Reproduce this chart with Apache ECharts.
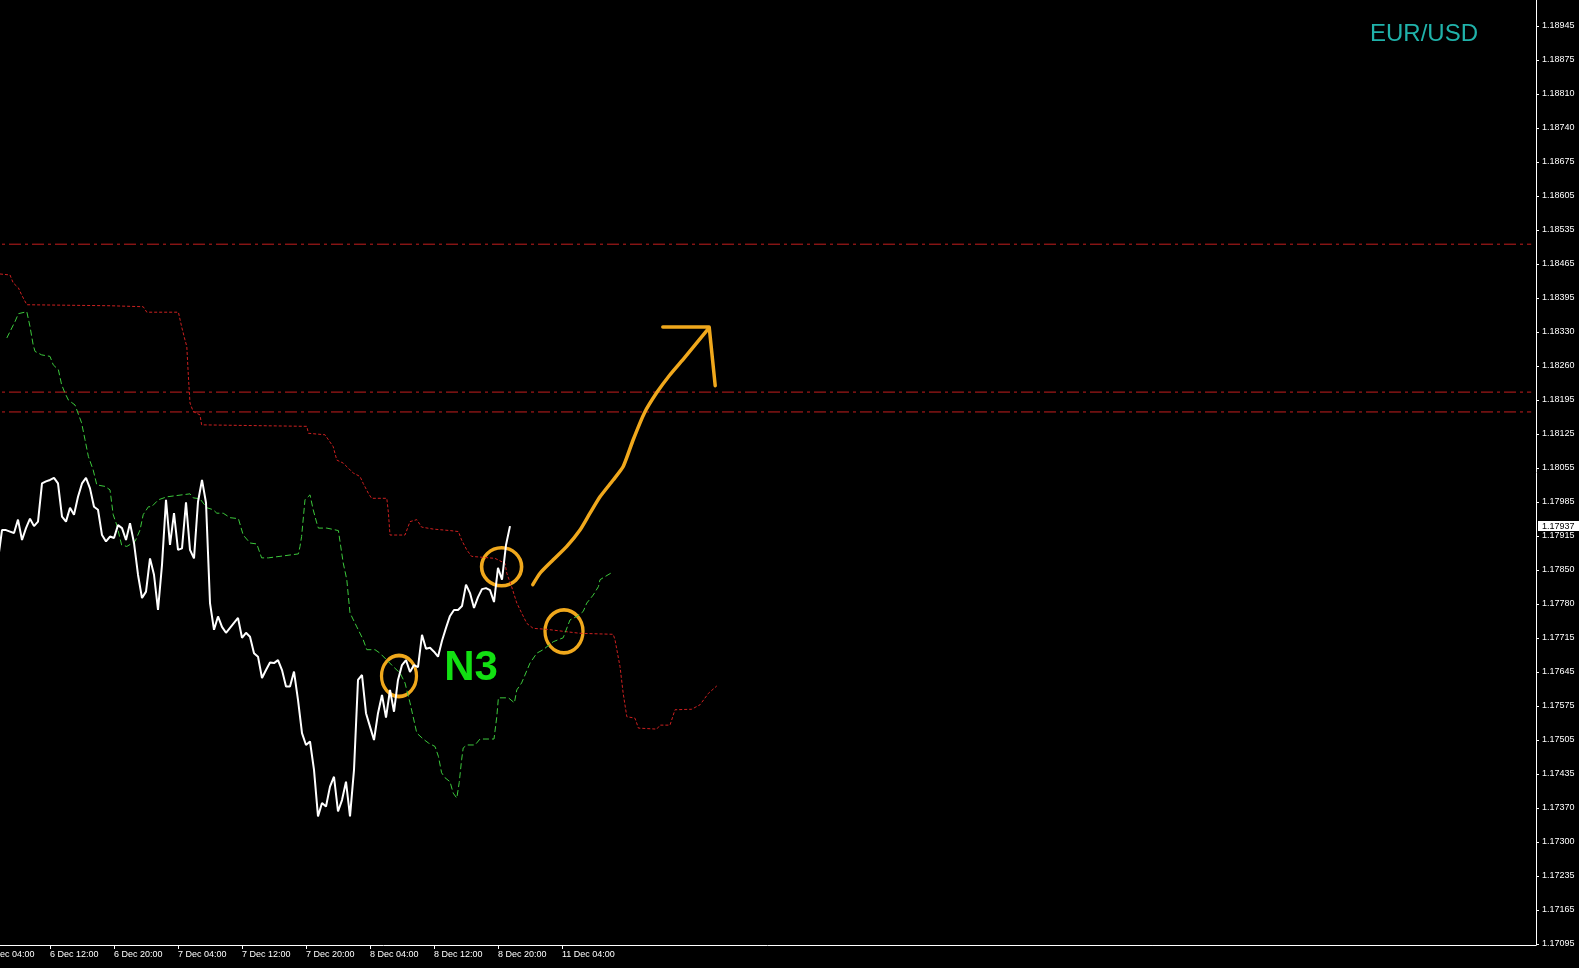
<!DOCTYPE html>
<html>
<head>
<meta charset="utf-8">
<script src="https://cdn.jsdelivr.net/npm/echarts@6/dist/echarts.min.js"></script>
<style>
html,body{margin:0;padding:0;background:#000;}
#chart{width:1579px;height:968px;}
</style>
</head>
<body>
<div id="chart"></div>
<script>
// ---- data (bar index = one M30 bar; index 0 = 6 Dec 12:00) ----
const WHITE_START = -13;
const whiteClose = [
1.17869,1.17929,1.17929,1.17926,1.17923,1.17950,1.17909,1.17933,1.17952,1.17937,1.17946,1.18023,1.18027,
1.18030,1.18034,1.18023,1.17956,1.17946,1.17974,1.17960,1.17996,1.18023,1.18034,1.18013,1.17976,1.17970,
1.17919,1.17906,1.17916,1.17913,1.17939,1.17933,1.17909,1.17943,1.17903,1.17839,1.17792,1.17805,1.17872,
1.17839,1.17768,1.17859,1.17990,1.17899,1.17963,1.17889,1.17892,1.17985,1.17889,1.17872,1.17986,1.18030,
1.17984,1.17782,1.17728,1.17755,1.17734,1.17722,1.17732,1.17742,1.17752,1.17712,1.17722,1.17714,1.17681,
1.17674,1.17631,1.17647,1.17662,1.17661,1.17667,1.17647,1.17614,1.17614,1.17644,1.17587,1.17520,1.17496,
1.17503,1.17446,1.17352,1.17379,1.17372,1.17412,1.17432,1.17362,1.17385,1.17422,1.17352,1.17446,1.17627,
1.17637,1.17560,1.17533,1.17506,1.17560,1.17597,1.17551,1.17607,1.17563,1.17627,1.17657,1.17667,1.17643,
1.17657,1.17653,1.17718,1.17690,1.17692,1.17684,1.17674,1.17706,1.17732,1.17756,1.17768,1.17768,1.17776,
1.17819,1.17802,1.17772,1.17794,1.17810,1.17812,1.17808,1.17784,1.17853,1.17829,1.17899,1.17937
];
const greenPts = [
[-10.8,1.18316],[-8.75,1.18349],[-7.9,1.18365],[-5.8,1.18369],[-5,1.18339],[-4.2,1.18302],[-3.75,1.18289],[-2.1,1.18282],
[0,1.18279],[0.8,1.18262],[2.1,1.18252],[2.9,1.18222],[3.75,1.18205],[4.6,1.18191],[6.25,1.18181],[7.9,1.18145],
[8.75,1.18111],[9.6,1.18077],[10.8,1.18050],[11.7,1.18020],[13.75,1.18017],[15,1.18010],[15.8,1.17960],[16.7,1.17939],
[17.9,1.17899],[19.2,1.17896],[21.25,1.17906],[22.5,1.17929],[23.3,1.17960],[24.6,1.17976],[25.4,1.17976],[27.1,1.17990],
[29.2,1.17996],[35,1.18002],[35.8,1.17994],[37.5,1.17992],[39.2,1.17974],[40.8,1.17970],[41.7,1.17963],[43.3,1.17963],
[45,1.17954],[47.1,1.17952],[48.3,1.17919],[50,1.17903],[51.7,1.17901],[52.9,1.17873],[54.6,1.17873],[55,1.17877],
[62.1,1.17881],[62.5,1.17896],[62.9,1.17916],[63.75,1.17990],[65,1.18000],[65.8,1.17970],[66.7,1.17943],[67.1,1.17933],
[69.2,1.17933],[72.1,1.17928],[72.5,1.17906],[73.3,1.17863],[74.2,1.17829],[74.6,1.17795],[75,1.17762],[76.7,1.17734],
[78.3,1.17708],[79.2,1.17688],[81.25,1.17688],[82.5,1.17681],[85.8,1.17654],[87.5,1.17641],[88.75,1.17621],[90,1.17581],
[91.7,1.17520],[93.3,1.17508],[94.6,1.17500],[96.25,1.17493],[97.1,1.17473],[97.9,1.17440],[98.75,1.17430],[100,1.17422],
[100.8,1.17399],[101.7,1.17389],[102.3,1.17420],[102.9,1.17466],[103.3,1.17490],[104.2,1.17496],[106.25,1.17496],[107.5,1.17508],
[111,1.17508],[111.7,1.17553],[112.1,1.17591],[114.6,1.17591],[116.1,1.17581],[116.7,1.17607],[117.9,1.17621],[120,1.17661],
[121.7,1.17681],[123.3,1.17688],[125.8,1.17704],[128.3,1.17712],[130,1.17748],[131.7,1.17755],[133.3,1.17765],[134.2,1.17782],
[135.8,1.17798],[137.1,1.17815],[137.5,1.17829],[138.3,1.17833],[140.8,1.17845]
];
const redPts = [
[-12.5,1.18445],[-10,1.18443],[-9.2,1.18427],[-7.9,1.18417],[-7.1,1.18403],[-5.8,1.18383],[15,1.18381],[23.3,1.18379],
[24.2,1.18368],[32.1,1.18368],[32.9,1.18339],[33.75,1.18312],[34.2,1.18299],[34.6,1.18238],[35,1.18185],[35.8,1.18168],
[37.5,1.18161],[37.9,1.18141],[64.2,1.18138],[64.6,1.18124],[68.75,1.18121],[69.6,1.18111],[70.8,1.18097],[71.7,1.18070],
[73.3,1.18064],[75.8,1.18044],[77.5,1.18037],[78.3,1.18023],[79.6,1.18003],[80.4,1.17993],[84.2,1.17993],[84.6,1.17964],
[85,1.17919],[88.75,1.17919],[90,1.17946],[91.7,1.17950],[92.9,1.17935],[95.8,1.17931],[100,1.17928],[102.1,1.17926],
[102.9,1.17909],[104.2,1.17889],[105.4,1.17876],[111.25,1.17872],[113.75,1.17862],[114.2,1.17842],[115.4,1.17815],[116.7,1.17782],
[117.9,1.17762],[119.2,1.17741],[120.8,1.17731],[124.2,1.17729],[132.5,1.17721],[140.8,1.17719],[141.25,1.17708],[142.5,1.17654],
[143.3,1.17600],[144.2,1.17553],[146.25,1.17550],[147.1,1.17530],[151.7,1.17528],[152.5,1.17536],[155,1.17536],[156.25,1.17567],
[160.4,1.17568],[162.5,1.17577],[164.6,1.17600],[166.7,1.17615]
];
const levelLines = [1.18505, 1.18207, 1.18167];
const arrowPath = [
[120.7,1.17819],[122.5,1.17842],[125.8,1.17869],[129.2,1.17896],[132.5,1.17929],[135,1.17963],[137.5,1.17996],
[140.8,1.18030],[143.3,1.18057],[145.8,1.18111],[148.6,1.18165],[151.7,1.18206],[154.9,1.18241],[158.7,1.18277],[164.5,1.18334]
];
const arrowHook = [[153.2,1.18338],[164.8,1.18338],[166.3,1.18220]];
const circleMarks = [[87.25,1.17635],[112.9,1.17855],[128.5,1.17725]];
const xTickLabels = ['6 Dec 04:00','6 Dec 12:00','6 Dec 20:00','7 Dec 04:00','7 Dec 12:00','7 Dec 20:00','8 Dec 04:00','8 Dec 12:00','8 Dec 20:00','11 Dec 04:00'];
const yTickLabels = ['1.17095','1.17165','1.17235','1.17300','1.17370','1.17435','1.17505','1.17575','1.17645','1.17715','1.17780','1.17850','1.17915','1.17985','1.18055','1.18125','1.18195','1.18260','1.18330','1.18395','1.18465','1.18535','1.18605','1.18675','1.18740','1.18810','1.18875','1.18945'];
const symbolName = 'EUR/USD';
const noteText = 'N3';

// ---- derived axis positions ----
const BARS_PER_LABEL = 16;
const X_FIRST = -16;
const X_MAX = 371.5;
const xTickPos = xTickLabels.map((_, k) => X_FIRST + k * BARS_PER_LABEL);
const yLow = parseFloat(yTickLabels[0]);
const yHigh = parseFloat(yTickLabels[yTickLabels.length - 1]);
const yStep = (yHigh - yLow) / (yTickLabels.length - 1);
const yTickPos = yTickLabels.map((_, k) => yLow + k * yStep);

const whiteData = whiteClose.map((v, k) => [WHITE_START + k, v]);
const ORANGE = '#f0a81c';
const FONT = '"Liberation Sans", Arial, sans-serif';

const levelSeries = levelLines.map((v, k) => ({
  name: 'level' + k, type: 'line', silent: true, showSymbol: false,
  data: [[X_FIRST, v], [X_MAX - 1.2, v]],
  lineStyle: {color: '#c41e1e', width: 1, type: [12, 4, 3, 4]}
}));

const chart = echarts.init(document.getElementById('chart'), null, {renderer: 'canvas'});
const option = {
  backgroundColor: '#000000',
  animation: false,
  grid: {left: -14, right: 43, top: 0, bottom: 23, containLabel: false, outerBoundsMode: 'none'},
  xAxis: {
    type: 'value', min: X_FIRST, max: X_MAX,
    axisLine: {show: true, lineStyle: {color: '#ffffff', width: 1}},
    axisTick: {show: true, length: 4, lineStyle: {color: '#ffffff'}, customValues: xTickPos},
    axisLabel: {
      show: true, customValues: xTickPos, color: '#ffffff', fontSize: 9, fontFamily: FONT,
      align: 'left', margin: 5,
      formatter: (v) => { const k = Math.round((v - X_FIRST) / BARS_PER_LABEL); return xTickLabels[k] || ''; }
    },
    splitLine: {show: false}
  },
  yAxis: {
    type: 'value', position: 'right', min: 1.17093, max: 1.18997, scale: true,
    axisLine: {show: true, onZero: false, lineStyle: {color: '#ffffff', width: 1}},
    axisTick: {show: true, length: 3, lineStyle: {color: '#ffffff'}, customValues: yTickPos},
    axisLabel: {
      show: true, customValues: yTickPos, color: '#ffffff', fontSize: 9, fontFamily: FONT, margin: 6,
      formatter: (v) => { const k = Math.round((v - yLow) / yStep); return yTickLabels[k] || ''; }
    },
    splitLine: {show: false}
  },
  series: levelSeries.concat([
    {name: 'red', type: 'line', data: redPts, showSymbol: false, silent: true,
     lineStyle: {color: '#cc2020', width: 1, type: [3, 2]}},
    {name: 'green', type: 'line', data: greenPts, showSymbol: false, silent: true,
     lineStyle: {color: '#3cc83c', width: 1, type: [6, 3]}},
    {name: 'close', type: 'line', data: whiteData, showSymbol: false, silent: true,
     lineStyle: {color: '#ffffff', width: 2}},
    {name: 'arrow', type: 'line', data: arrowPath, showSymbol: false, silent: true, smooth: 0.2,
     lineStyle: {color: ORANGE, width: 3.5, cap: 'round', join: 'round'}},
    {name: 'hook', type: 'line', data: arrowHook, showSymbol: false, silent: true,
     lineStyle: {color: ORANGE, width: 3.5, cap: 'round', join: 'round'}},
    {name: 'circles', type: 'scatter', silent: true,
     data: circleMarks.map((p, k) => ({value: p, symbolSize: [[35, 41], [40, 38], [38, 43]][k]})),
     symbol: 'circle',
     itemStyle: {color: 'rgba(0,0,0,0)', borderColor: ORANGE, borderWidth: 3.5, opacity: 1}}
  ])
};
chart.setOption(option);

// current price tag and text annotations
const lastPrice = whiteClose[whiteClose.length - 1];
const pxY = chart.convertToPixel({gridIndex: 0}, [0, lastPrice])[1];
chart.setOption({
  graphic: [
    {type: 'rect', shape: {x: 1538, y: pxY - 5, width: 41, height: 10}, style: {fill: '#ffffff'}, z: 100},
    {type: 'text', x: 1542, y: pxY, style: {text: lastPrice.toFixed(5), fill: '#000000', font: '9px ' + FONT, textVerticalAlign: 'middle'}, z: 101},
    {type: 'text', x: 1370, y: 34, style: {text: symbolName, fill: '#20b2aa', font: '24px ' + FONT, textVerticalAlign: 'middle'}, z: 100},
    {type: 'text', x: 471, y: 668, style: {text: noteText, fill: '#12e012', font: 'bold 42px ' + FONT, textAlign: 'center', textVerticalAlign: 'middle'}, z: 100}
  ]
});
</script>
</body>
</html>
